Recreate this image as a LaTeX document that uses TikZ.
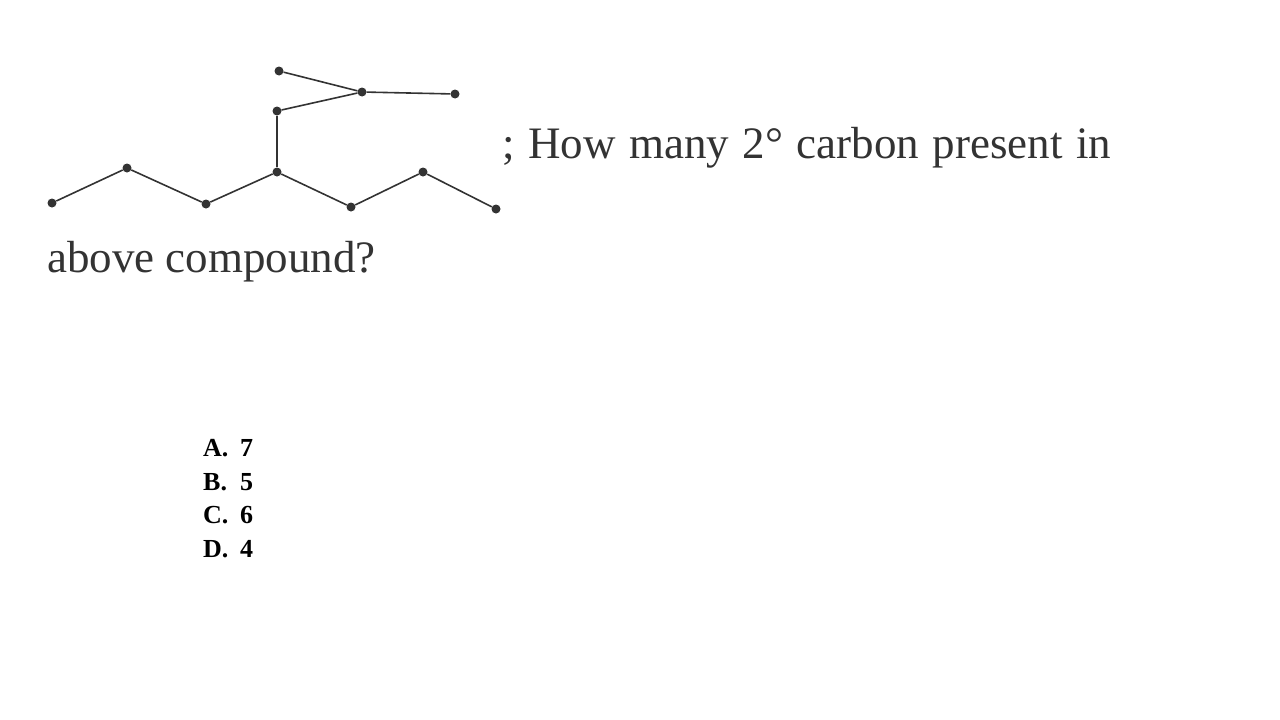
\documentclass[tikz,border=0pt]{standalone}
\usepackage{fontspec}
\setmainfont{Liberation Serif}
\usepackage{xcolor}
\usetikzlibrary{positioning}
\definecolor{inkgray}{HTML}{333333}
\tikzset{
    atom/.style={
        circle,
        fill=inkgray,
        inner sep=0pt,
        minimum size=9pt
    },
    bond/.style={
        draw=inkgray,
        line width=1.6pt
    },
    question/.style={
        anchor=base west,
        inner sep=0pt,
        text=inkgray,
        font=\fontsize{45}{45}\selectfont
    },
    choice/.style={
        anchor=base west,
        inner sep=0pt,
        font=\fontsize{26}{26}\selectfont\bfseries
    }
}
\newcommand{\optlabel}[1]{\makebox[37pt][l]{#1}}
\begin{document}
\begin{tikzpicture}[x=1pt,y=-1pt]
\useasboundingbox (0,0) rectangle (1280,720);
% main chain
\node[atom] (c1) at (52,203) {};
\node[atom] (c2) at (127,168) {};
\node[atom] (c3) at (206,204) {};
\node[atom] (c4) at (277,172) {};
\node[atom] (c5) at (351,207) {};
\node[atom] (c6) at (423,172) {};
\node[atom] (c7) at (496,209) {};
% branch
\node[atom] (b1) at (277,111) {};
\node[atom] (b2) at (362,92) {};
\node[atom] (b3) at (279,71) {};
\node[atom] (b4) at (455,94) {};

\draw[bond] (c1) -- (c2);
\draw[bond] (c2) -- (c3);
\draw[bond] (c3) -- (c4);
\draw[bond] (c4) -- (c5);
\draw[bond] (c5) -- (c6);
\draw[bond] (c6) -- (c7);
\draw[bond] (c4) -- (b1);
\draw[bond] (b1) -- (b2);
\draw[bond] (b2) -- (b3);
\draw[bond] (b2) -- (b4);

% text
\node[question] (q1) at (502,158) {\spaceskip=13.5pt ; How many 2° carbon present in};
\node[question] (q2) at (47,272) {above compound?};
\node[choice] (a) at (203,456) {\optlabel{A.}7};
\node[choice] (b) at (203,490) {\optlabel{B.}5};
\node[choice] (c) at (203,523) {\optlabel{C.}6};
\node[choice] (d) at (203,557) {\optlabel{D.}4};
\end{tikzpicture}
\end{document}
